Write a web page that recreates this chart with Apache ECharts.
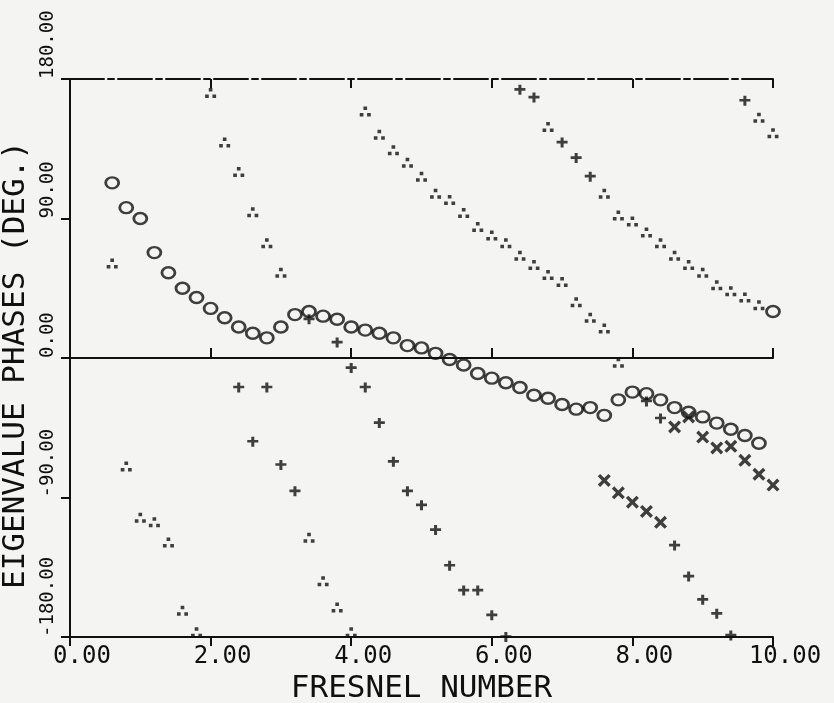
<!DOCTYPE html>
<html>
<head>
<meta charset="utf-8">
<script src="https://cdn.jsdelivr.net/npm/echarts@6/dist/echarts.min.js"></script>
<style>
  html, body { margin: 0; padding: 0; background: #f4f4f2; }
  #chart { width: 834px; height: 703px; }
</style>
</head>
<body>
<div id="chart"></div>
<script>
// circle curve, one point every 0.2 from 0.6 to 9.8
const circleX = [0.6, 0.8, 1.0, 1.2, 1.4, 1.6, 1.8, 2.0, 2.2, 2.4, 2.6, 2.8, 3.0, 3.2, 3.4, 3.6,
  3.8, 4.0, 4.2, 4.4, 4.6, 4.8, 5.0, 5.2, 5.4, 5.6, 5.8, 6.0, 6.2, 6.4, 6.6, 6.8, 7.0, 7.2,
  7.4, 7.6, 7.8, 8.0, 8.2, 8.4, 8.6, 8.8, 9.0, 9.2, 9.4, 9.6, 9.8];
const circleY = [113, 97, 90, 68, 55, 45, 39, 32, 26, 20, 16, 13, 20, 28, 30, 27,
  25, 20, 18, 16, 13, 8, 6.5, 3, -1, -4.5, -10, -13, -16, -19, -24, -26, -30, -33,
  -32, -37, -27, -22, -23, -27, -32, -35, -38, -42, -46, -50, -55];
const circleExtra = [[10.0, 30]];

// triangle marks (print as three dots)
const trianglePts = [
  [0.6, 61], [0.8, -70], [1.0, -103], [1.2, -106], [1.4, -119], [1.6, -163], [1.8, -177],
  [2.0, 171], [2.2, 139], [2.4, 120], [2.6, 94], [2.8, 74], [3.0, 55],
  [3.4, -116], [3.6, -144], [3.8, -161], [4.0, -177],
  [4.2, 159], [4.4, 144], [4.6, 134], [4.8, 126], [5.0, 117], [5.2, 106], [5.4, 102],
  [5.6, 93.5], [5.8, 84.5], [6.0, 79], [6.2, 74], [6.4, 66], [6.6, 60], [6.8, 53.5],
  [7.0, 49], [7.2, 36], [7.4, 26], [7.6, 19], [7.8, -3],
  [6.8, 149], [7.6, 106], [7.8, 92], [8.0, 88], [8.2, 81], [8.4, 74], [8.6, 66], [8.8, 60],
  [9.0, 55], [9.2, 47], [9.4, 43], [9.6, 39], [9.8, 34],
  [9.8, 155], [10.0, 145]
];

// plus marks
const plusPts = [
  [2.4, -19], [2.8, -19], [2.6, -54], [3.0, -69], [3.2, -86],
  [3.4, 25], [3.8, 10], [4.0, -6.5], [4.2, -19], [4.4, -42], [4.6, -67], [4.8, -86],
  [5.0, -95], [5.2, -111], [5.4, -134], [5.6, -150], [5.8, -150], [6.0, -166], [6.2, -180],
  [6.4, 173], [6.6, 168], [7.0, 139], [7.2, 129], [7.4, 117],
  [8.2, -28], [8.4, -39],
  [8.6, -121], [8.8, -141], [9.0, -156], [9.2, -165], [9.4, -179],
  [9.6, 166]
];

// x marks
const crossPts = [
  [7.6, -79], [7.8, -87], [8.0, -93], [8.2, -99], [8.4, -106],
  [8.6, -44.5], [8.8, -38], [9.0, -51], [9.2, -58], [9.4, -57], [9.6, -66], [9.8, -75], [10.0, -82]
];

const xTicks = [0, 2, 4, 6, 8, 10];
const yTicks = [-180, -90, 0, 90, 180];

const ink = '#101010';
const mono = '"DejaVu Sans Mono", monospace';

const chart = echarts.init(document.getElementById('chart'));

const lineStyle = { color: ink, width: 2 };
function plainX(extra) {
  return Object.assign({
    type: 'value', min: xTicks[0], max: xTicks[xTicks.length - 1], interval: 2,
    splitLine: { show: false },
    axisLabel: { show: false }
  }, extra);
}

const dotTri = 'path://M3.5,0h3.5v3.5h-3.5z M0,6.5h3.5v3.5h-3.5z M7,6.5h3.5v3.5h-3.5z';
const plusMark = 'path://M0,3.5h11v3h-11z M4,0h3v11h-3z';
const crossMark = 'path://M0,2.2 L2.2,0 L6,3.8 L9.8,0 L12,2.2 L8.2,6 L12,9.8 L9.8,12 L6,8.2 L2.2,12 L0,9.8 L3.8,6 Z';

chart.setOption({
  backgroundColor: '#f4f4f2',
  animation: false,
  grid: { left: 70, right: 61, top: 79, bottom: 66, containLabel: false, outerBoundsMode: 'none' },
  xAxis: [
    plainX({
      position: 'bottom',
      axisLine: { onZero: false, lineStyle: lineStyle },
      axisTick: { length: 9, lineStyle: lineStyle },
      axisLabel: {
        show: true, margin: 8,
        formatter: v => '{a|' + v.toFixed(2) + '}',
        rich: { a: { fontFamily: mono, fontSize: 24, color: ink, padding: [0, 0, 0, 24] } }
      },
      name: 'FRESNEL NUMBER',
      nameLocation: 'middle',
      nameGap: 30,
      nameTextStyle: { fontFamily: mono, fontSize: 31, color: ink }
    }),
    plainX({
      position: 'top',
      axisLine: { onZero: false, lineStyle: { color: ink, width: 2, type: [34, 4, 6, 4] } },
      axisTick: { inside: true, length: 9, lineStyle: lineStyle }
    }),
    plainX({
      position: 'bottom',
      axisLine: { onZero: true, lineStyle: lineStyle },
      axisTick: { inside: true, length: 10, lineStyle: lineStyle }
    }),
    plainX({
      position: 'bottom',
      axisLine: { show: false, onZero: true },
      axisTick: { inside: false, length: 9, lineStyle: lineStyle }
    })
  ],
  yAxis: {
    type: 'value', min: yTicks[0], max: yTicks[yTicks.length - 1], interval: 90,
    position: 'left',
    axisLine: { onZero: false, lineStyle: lineStyle },
    axisTick: { length: 9, lineStyle: lineStyle },
    splitLine: { show: false },
    axisLabel: {
      rotate: 90, align: 'left', verticalAlign: 'bottom', margin: 12,
      fontFamily: mono, fontSize: 19, color: ink,
      formatter: v => v.toFixed(2)
    },
    name: 'EIGENVALUE PHASES (DEG.)',
    nameLocation: 'middle',
    nameGap: 29,
    nameTextStyle: { fontFamily: mono, fontSize: 31, color: ink, padding: [0, 14, 0, 0] }
  },
  series: [
    {
      type: 'scatter',
      data: circleX.map((x, i) => [x, circleY[i]]).concat(circleExtra),
      symbol: 'circle', symbolSize: [13, 11],
      itemStyle: { color: 'rgba(0,0,0,0)', borderColor: ink, borderWidth: 2.6 }
    },
    {
      type: 'scatter', data: trianglePts,
      symbol: dotTri, symbolSize: [11, 10],
      itemStyle: { color: ink }
    },
    {
      type: 'scatter', data: plusPts,
      symbol: plusMark, symbolSize: [11, 10],
      itemStyle: { color: ink }
    },
    {
      type: 'scatter', data: crossPts,
      symbol: crossMark, symbolSize: 13,
      itemStyle: { color: ink }
    }
  ]
});
</script>
</body>
</html>
